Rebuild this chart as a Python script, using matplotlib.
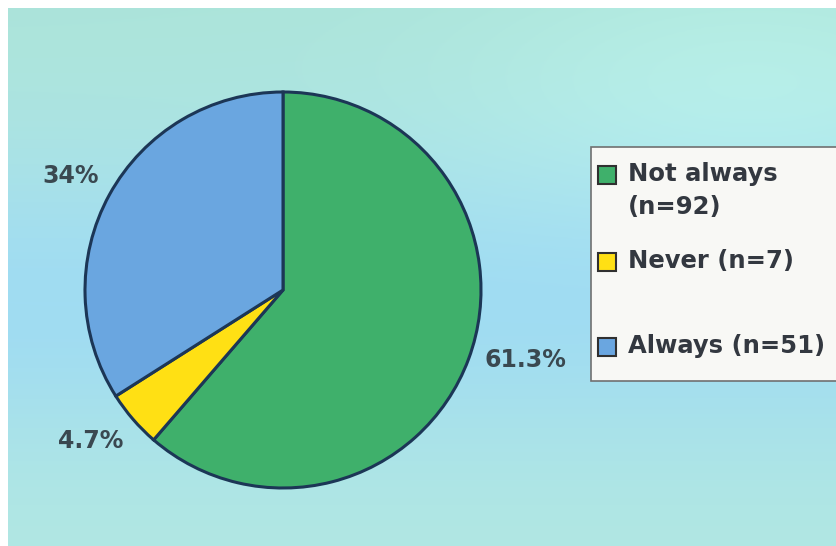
import numpy as np
from matplotlib import pyplot as plt
from matplotlib.patches import Rectangle

# responses to the survey question
labels = ["Not always\n(n=92)", "Never (n=7)", "Always (n=51)"]
counts = [92, 7, 51]
colors = ["#3fb06b", "#ffe014", "#6aa6e0"]

W, H = 837, 546
fig = plt.figure(figsize=(W / 100, H / 100), dpi=100)
fig.patch.set_facecolor("white")

# soft teal / sky-blue gradient backdrop
bg = fig.add_axes([8 / W, 0, 1 - 8 / W, 1 - 8 / H])
ys = np.linspace(0, 1, 200)[:, None]
xs = np.linspace(0, 1, 300)[None, :]
top = np.array([172, 228, 218]) / 255
mid = np.array([160, 220, 242]) / 255
bot = np.array([178, 232, 226]) / 255
w_mid = np.exp(-((ys - 0.55) / 0.28) ** 2)
w_top = np.clip(1 - ys / 0.5, 0, 1) * (1 - w_mid)
w_bot = 1 - w_mid - w_top
img = (w_top[..., None] * top + w_mid[..., None] * mid + w_bot[..., None] * bot)
img = img * np.ones_like(xs)[..., None]
# a little lighter toward the upper right
glow = np.exp(-(((xs - 0.9) / 0.35) ** 2 + ((ys - 0.15) / 0.25) ** 2))
img = img + glow[..., None] * 0.04
bg.imshow(np.clip(img, 0, 1), aspect="auto", extent=[0, 1, 1, 0])
bg.axis("off")

ax = fig.add_axes([0, 0, 1, 1])
ax.patch.set_alpha(0)


def fmt(p):
    s = f"{p:.1f}"
    return (s[:-2] if s.endswith(".0") else s) + "%"


wedges, texts, autotexts = ax.pie(
    counts, colors=colors, startangle=90, counterclock=False,
    center=(283, H - 290), radius=198,
    autopct=fmt, pctdistance=1.24,
    wedgeprops=dict(edgecolor="#1c3656", linewidth=2.2),
    textprops=dict(fontsize=17, fontweight="bold", color="#3a4850"),
)
# nudge the percentage labels a bit (green, yellow, blue)
nudges = [(12, 16), (-6, 9), (3, -4)]
for t, (dx, dy) in zip(autotexts, nudges):
    x, y = t.get_position()
    t.set_position((x + dx, y + dy))

ax.set_xlim(0, W)
ax.set_ylim(0, H)
ax.set_aspect("equal")
ax.axis("off")

# legend box, running past the right edge
box_x, box_top, box_bot = 591, 147, 381
ax.add_patch(Rectangle((box_x, H - box_bot), 300, box_bot - box_top,
                       facecolor="#f8f8f5", edgecolor="#707070", lw=1.2))
entry_y = [175, 262, 347]
for lab, col, y in zip(labels, colors, entry_y):
    ax.add_patch(Rectangle((598, H - y - 9), 18, 18, facecolor=col,
                           edgecolor="#303030", lw=1.5))
    ax.text(628, H - y + 13, lab, fontsize=17.5, fontweight="bold",
            color="#333840", va="top", ha="left", linespacing=1.45)

fig.savefig("out.png", dpi=100)
